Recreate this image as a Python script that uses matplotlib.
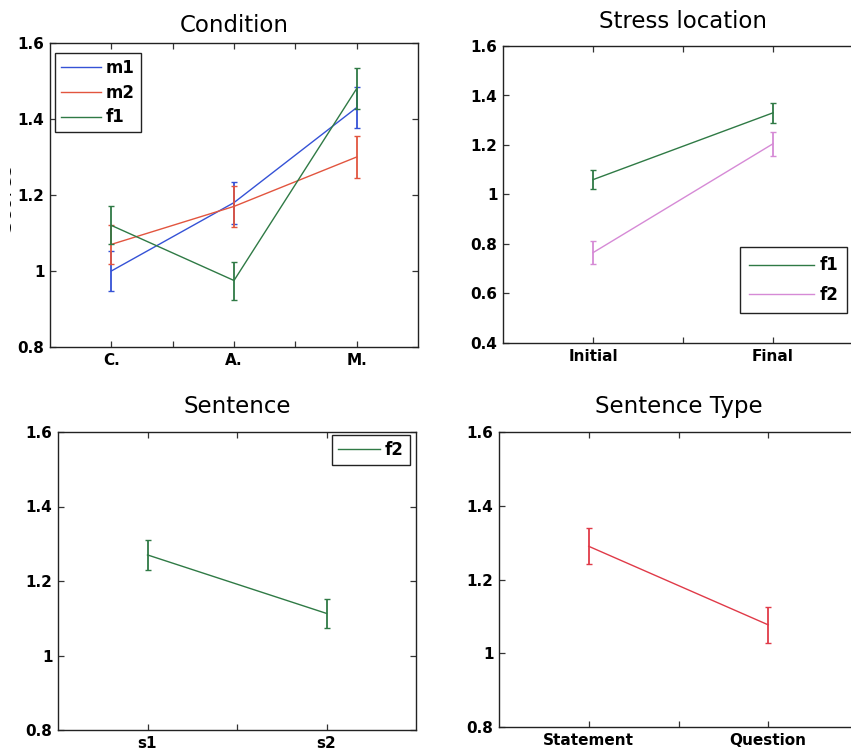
import numpy as np
import matplotlib
matplotlib.use("Agg")
import matplotlib.pyplot as plt
from matplotlib.transforms import Bbox

plt.rcParams['font.family'] = ['DejaVu Sans']

# condition panel: three speakers over C./A./M.
cond_labels = ["C.", "A.", "M."]
m1_mean = [1.00, 1.18, 1.43]
m1_err = [0.052, 0.055, 0.053]
m2_mean = [1.07, 1.17, 1.30]
m2_err = [0.052, 0.055, 0.055]
f1_mean = [1.12, 0.975, 1.48]
f1_err = [0.050, 0.050, 0.053]

# stress location panel
stress_labels = ["Initial", "Final"]
stress_f1_mean = [1.06, 1.33]
stress_f1_err = [0.038, 0.040]
stress_f2_mean = [0.765, 1.205]
stress_f2_err = [0.047, 0.048]

# sentence panel
sent_labels = ["s1", "s2"]
sent_f2_mean = [1.27, 1.113]
sent_f2_err = [0.040, 0.039]

# sentence type panel
type_labels = ["Statement", "Question"]
type_mean = [1.29, 1.077]
type_err = [0.049, 0.049]

W, H = 851, 754
fig = plt.figure(figsize=(W / 100, H / 100), dpi=100)


def px_axes(left, top, right, bottom):
    return fig.add_axes([left / W, 1 - bottom / H, (right - left) / W, (bottom - top) / H])


def style(ax, labels, ylim, yticks, ylabels, title, pad):
    n = len(labels)
    ax.set_xlim(0.5, n + 0.5)
    ax.set_ylim(*ylim)
    ax.set_xticks(np.arange(1, n + 1))
    ax.set_xticklabels(labels, fontsize=11, fontweight="bold")
    ax.set_xticks(np.arange(1.5, n, 1.0), minor=True)
    ax.set_yticks(yticks)
    ax.set_yticklabels(ylabels, fontsize=11, fontweight="bold")
    ax.tick_params(which="both", direction="in", top=True, right=True,
                   length=4, width=0.9, color="#333333", pad=4)
    for s in ax.spines.values():
        s.set_linewidth(1.0)
        s.set_color("#222222")
    ax.set_title(title, fontsize=16.5, pad=pad)


def eb(ax, y, err, color, label):
    x = np.arange(1, len(y) + 1)
    ax.errorbar(x, y, yerr=err, fmt="none", ecolor=color, elinewidth=1.3,
                capsize=2.2, capthick=1.0)
    ax.plot(x, y, color=color, lw=1.0, label=label)


def legend(ax, **kw):
    leg = ax.legend(fontsize=12, fancybox=False, edgecolor="#222222",
                    framealpha=1, handletextpad=0.3, borderaxespad=0, **kw)
    leg.get_frame().set_linewidth(1.0)
    for t in leg.get_texts():
        t.set_fontweight("bold")
    return leg


blue = "#3552d6"
red = "#e2553f"
green = "#2f7a45"
pink = "#d68ad6"

ax1 = px_axes(50, 43, 418, 347)
eb(ax1, m1_mean, m1_err, blue, "m1")
eb(ax1, m2_mean, m2_err, red, "m2")
eb(ax1, f1_mean, f1_err, green, "f1")
style(ax1, cond_labels, (0.8, 1.6), [0.8, 1.0, 1.2, 1.4, 1.6],
      ["0.8", "1", "1.2", "1.4", "1.6"], "Condition", 8)
legend(ax1, loc="upper left", bbox_to_anchor=(0.0136, 0.967),
       handlelength=2.4, labelspacing=0.4, borderpad=0.36)

ax2 = px_axes(503, 46, 863, 343)
eb(ax2, stress_f1_mean, stress_f1_err, green, "f1")
eb(ax2, stress_f2_mean, stress_f2_err, pink, "f2")
style(ax2, stress_labels, (0.4, 1.6), [0.4, 0.6, 0.8, 1.0, 1.2, 1.4, 1.6],
      ["0.4", "0.6", "0.8", "1", "1.2", "1.4", "1.6"], "Stress location", 13)
legend(ax2, loc="upper left", bbox_to_anchor=(0.658, 0.323),
       handlelength=3.9, labelspacing=0.69, borderpad=0.56)

ax3 = px_axes(58, 432, 416, 730)
eb(ax3, sent_f2_mean, sent_f2_err, green, "f2")
style(ax3, sent_labels, (0.8, 1.6), [0.8, 1.0, 1.2, 1.4, 1.6],
      ["0.8", "1", "1.2", "1.4", "1.6"], "Sentence", 14)
legend(ax3, loc="upper right", bbox_to_anchor=(0.983, 0.99),
       handlelength=2.5, borderpad=0.37)

ax4 = px_axes(499, 432, 858, 727)
eb(ax4, type_mean, type_err, "#e03a48", "f2")
style(ax4, type_labels, (0.8, 1.6), [0.8, 1.0, 1.2, 1.4, 1.6],
      ["0.8", "1", "1.2", "1.4", "1.6"], "Sentence Type", 14)

# y label of the first panel, only its edge survives at the left border
ylab = fig.text(15 / W, 1 - 197 / H, "Scores", rotation=90, ha="right",
                va="center", fontsize=15)
ylab.set_clip_box(Bbox([[10, 0], [W, H]]))

fig.savefig("out.png", dpi=100)
